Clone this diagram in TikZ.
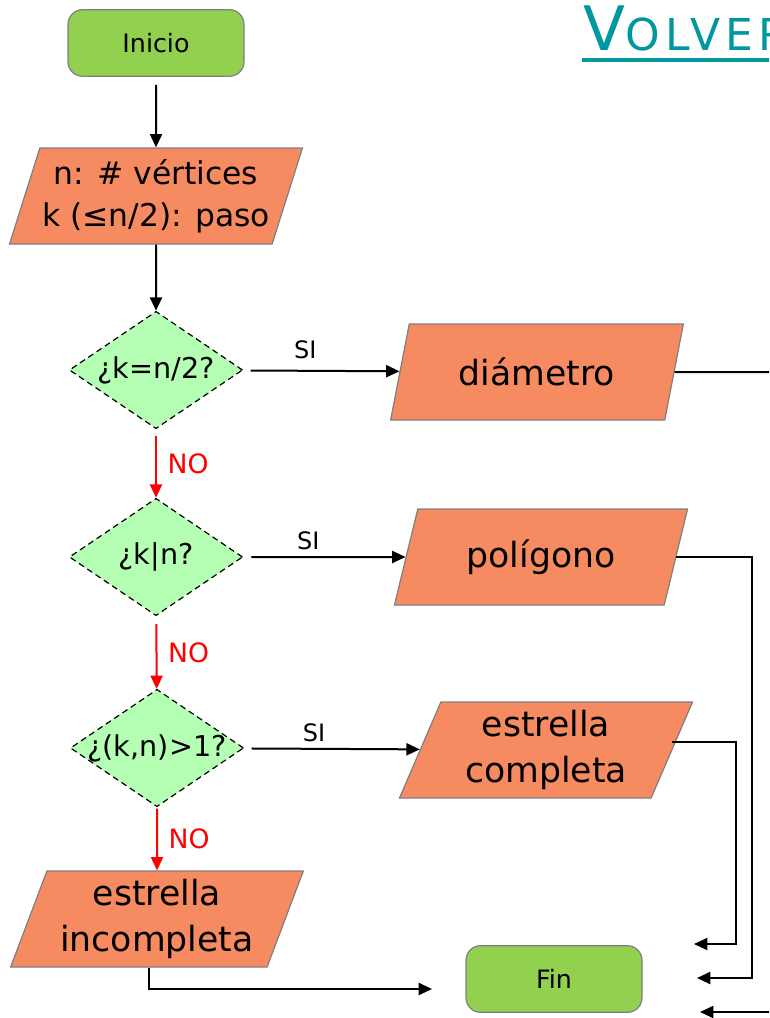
\documentclass[tikz,border=0pt]{standalone}
\usepackage{fontspec}
\setmainfont{DejaVu Sans}
\usepackage{tikz}
\usetikzlibrary{arrows.meta,positioning,shapes.geometric}
\definecolor{termc}{HTML}{92D050}
\definecolor{ioc}{HTML}{F68A61}
\definecolor{askc}{HTML}{B4FFB4}
\definecolor{edgec}{HTML}{7F7F7F}
\definecolor{linkc}{HTML}{00979F}
\newcommand{\nowide}[1]{\makebox[0pt]{#1}}
\tikzset{
  termnode/.style={rectangle, rounded corners=11pt, draw=edgec, fill=termc, line width=0.9pt,
    minimum width=132pt, minimum height=50pt, font=\fontsize{19}{19}\selectfont},
  ionode/.style={trapezium, trapezium left angle=68, trapezium right angle=112,
    trapezium stretches=true, draw=edgec, fill=ioc, line width=0.9pt, inner sep=0pt,
    minimum width=220pt, minimum height=72pt, align=center,
    font=\fontsize{26}{34}\selectfont},
  asknode/.style={diamond, draw=black, fill=askc, line width=0.9pt,
    dash pattern=on 4.5pt off 3pt, inner sep=0pt,
    minimum width=130pt, minimum height=88pt, font=\fontsize{21.5}{21.5}\selectfont},
  normaledge/.style={-{Triangle[length=10pt,width=9pt]}, draw=black, line width=1.5pt},
  noedge/.style={normaledge, draw=red},
  plainedge/.style={draw=black, line width=1.5pt},
  sinode/.style={font=\fontsize{18}{18}\selectfont, text=black},
  nonode/.style={font=\fontsize{20}{20}\selectfont, text=red, inner sep=2pt},
}
\begin{document}
\begin{tikzpicture}[x=0.75pt, y=-0.75pt]
  \useasboundingbox (0,0) rectangle (769,1018);
  \clip (0,0) rectangle (769,1018);
  % enlace de vuelta
  \node[anchor=base west, inner sep=0pt, text=linkc] (volver) at (583,50)
    {{\fontsize{46}{46}\selectfont V}{\fontsize{33}{33}\selectfont\addfontfeature{LetterSpace=12}OLVER}};
  \draw[linkc, line width=3pt] (582,60) -- (790,60);
  % columna principal
  \node[termnode] (inicio) at (156,43) {Inicio};
  \node[ionode, font=\fontsize{23.5}{31.5}\selectfont] (datos) at (156,196) {n: \# vértices\\k (≤n/2): paso};
  \node[asknode] (dmedio) at (156,370) {\nowide{¿k=n/2?}};
  \node[asknode] (ddiv) at (156,557) {\nowide{¿k|n?}};
  \node[asknode] (dmcd) at (157,748) {\nowide{¿(k,n)>1?}};
  \node[ionode] (incompleta) at (157,919) {estrella\\incompleta};
  % salidas
  \node[ionode] (diametro) at (537,372) {diámetro};
  \node[ionode] (poligono) at (541,557) {polígono};
  \node[ionode] (completa) at (546,750) {estrella\\completa};
  \node[termnode] (fin) at (554,979) {Fin};
  % puntos sueltos
  \coordinate (fuera1) at (790,372);
  \coordinate (codo2) at (752,978);
  \coordinate (llega2) at (697,978);
  \coordinate (codo3) at (736,944);
  \coordinate (llega3) at (694,944);
  \coordinate (llega4) at (432,989);
  \coordinate (fuera5) at (790,1012);
  \coordinate (llega5) at (700,1012);
  \draw[normaledge, shorten <=6pt] (inicio) -- (datos);
  \draw[normaledge] (datos) -- (dmedio);
  \draw[normaledge, shorten <=6pt] (dmedio) -- (diametro) node[sinode, pos=0.4, above=5pt] {SI};
  \draw[noedge, shorten <=5pt] (dmedio) -- (ddiv) node[nonode, midway, right=6pt] {NO};
  \draw[normaledge, shorten <=6pt] (ddiv) -- (poligono) node[sinode, pos=0.4, above=1pt] {SI};
  \draw[noedge, shorten <=6pt] (ddiv) -- (dmcd) node[nonode, midway, right=6pt] {NO};
  \draw[normaledge, shorten <=6pt] (dmcd) -- (completa) node[sinode, pos=0.4, above=1pt] {SI};
  \draw[noedge, shorten <=1pt] (dmcd) -- (incompleta) node[nonode, midway, right=6pt] {NO};
  \draw[plainedge] (diametro.east) -- (fuera1);
  \draw[normaledge] (poligono.east) -| (codo2) -- (llega2);
  \draw[normaledge] ([yshift=6pt]completa.east) -| (codo3) -- (llega3);
  \draw[normaledge] ([xshift=-6pt]incompleta.south) |- (llega4);
  \draw[normaledge] (fuera5) -- (llega5);
\end{tikzpicture}
\end{document}
